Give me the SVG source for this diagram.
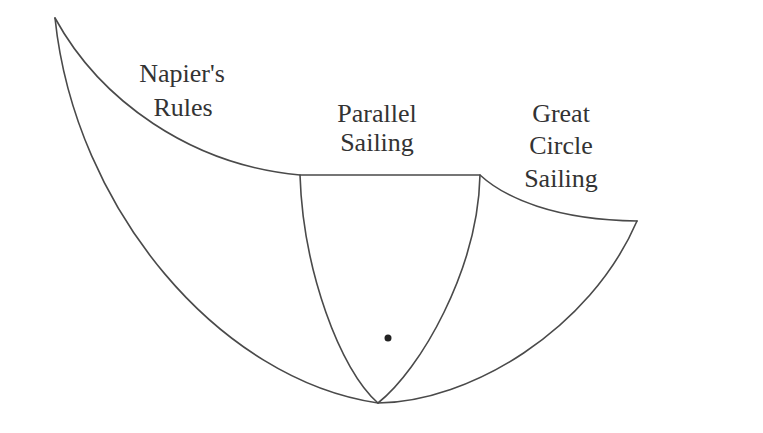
<svg xmlns="http://www.w3.org/2000/svg" width="763" height="433" viewBox="0 0 763 433">
<style>
.ln{fill:none;stroke:#4a4a4a;stroke-width:1.6;stroke-linecap:round;stroke-linejoin:round}
.lb{font-size:26px;fill:#333;text-anchor:middle}
</style>
<rect width="763" height="433" fill="#fff"/>
<g id="outline">
<path class="ln" d="M55,18 C100,100 190,165 300,175 L480,175 C505,198 555,220 637,221"/>
<path class="ln" d="M55,18 C75,210 220,380 378,403 C470,402 590,330 637,221"/>
</g>
<g id="inner">
<path class="ln" d="M300,175 C303,270 340,370 378,403"/>
<path class="ln" d="M480,175 C478,270 420,370 378,403"/>
<circle cx="388" cy="338" r="3.5" fill="#222"/>
</g>
<g font-family="Liberation Serif, Times New Roman, serif">
<g id="napier"><text class="lb" x="182" y="82">Napier's</text><text class="lb" x="183" y="116">Rules</text></g>
<g id="parallel"><text class="lb" x="377" y="122">Parallel</text><text class="lb" x="377" y="151">Sailing</text></g>
<g id="great"><text class="lb" x="561" y="122">Great</text><text class="lb" x="561" y="154">Circle</text><text class="lb" x="561" y="187">Sailing</text></g>
</g>
</svg>
